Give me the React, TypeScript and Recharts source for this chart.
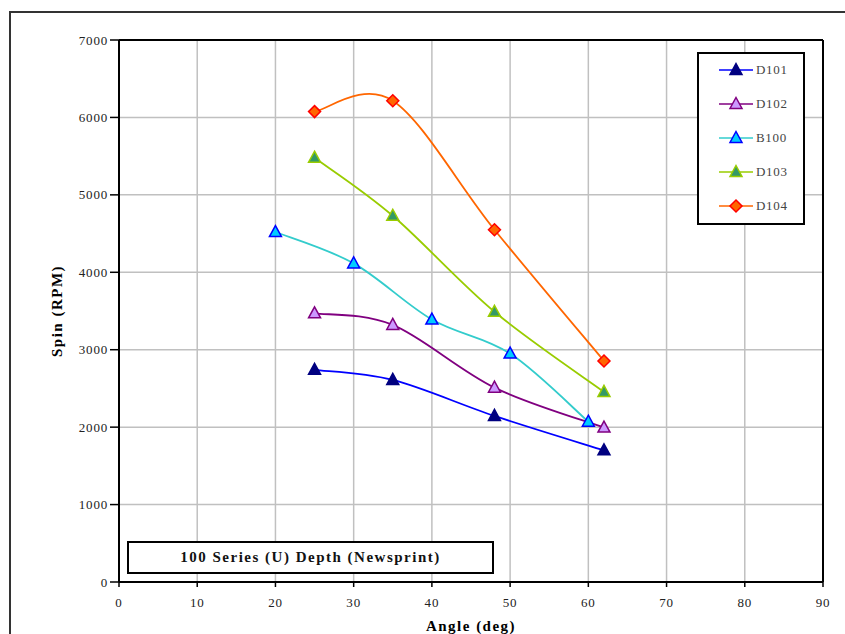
import React from 'react'
import { LineChart, Line, XAxis, YAxis, CartesianGrid, ReferenceLine } from 'recharts'

// values
const d101Angle = [25, 35, 48, 62]
const d101Spin = [2740, 2610, 2145, 1700]
const d102Angle = [25, 35, 48, 62]
const d102Spin = [3470, 3320, 2510, 1995]
const b100Angle = [20, 30, 40, 50, 60]
const b100Spin = [4520, 4115, 3390, 2950, 2070]
const d103Angle = [25, 35, 48, 62]
const d103Spin = [5480, 4730, 3490, 2455]
const d104Angle = [25, 35, 48, 62]
const d104Spin = [6075, 6215, 4550, 2855]

const xTicks = [0, 10, 20, 30, 40, 50, 60, 70, 80, 90]
const yTicks = [0, 1000, 2000, 3000, 4000, 5000, 6000, 7000]

const SERIF = '"Liberation Serif", "Times New Roman", serif'

const toPoints = (xs: number[], ys: number[]) => xs.map((x, i) => ({ x, y: ys[i] }))

interface SeriesDef {
  name: string
  data: { x: number; y: number }[]
  line: string
  fill: string
  stroke: string
  shape: 'triangle' | 'diamond'
}

const series: SeriesDef[] = [
  { name: 'D101', data: toPoints(d101Angle, d101Spin), line: '#0000ff', fill: '#000080', stroke: '#000080', shape: 'triangle' },
  { name: 'D102', data: toPoints(d102Angle, d102Spin), line: '#800080', fill: '#cc99ff', stroke: '#800080', shape: 'triangle' },
  { name: 'B100', data: toPoints(b100Angle, b100Spin), line: '#33cccc', fill: '#00ccff', stroke: '#0000ff', shape: 'triangle' },
  { name: 'D103', data: toPoints(d103Angle, d103Spin), line: '#99cc00', fill: '#339966', stroke: '#99cc00', shape: 'triangle' },
  { name: 'D104', data: toPoints(d104Angle, d104Spin), line: '#ff6600', fill: '#ff6600', stroke: '#ff0000', shape: 'diamond' },
]

// Excel-style smoothed line (Catmull-Rom bezier)
const excelCurve = (context: any) => {
  let pts: number[][] = []
  return {
    areaStart() {},
    areaEnd() {},
    lineStart() {
      pts = []
    },
    point(x: number, y: number) {
      pts.push([+x, +y])
    },
    lineEnd() {
      const n = pts.length
      if (!n) return
      context.moveTo(pts[0][0], pts[0][1])
      for (let i = 0; i < n - 1; i++) {
        const p0 = pts[Math.max(0, i - 1)]
        const p1 = pts[i]
        const p2 = pts[i + 1]
        const p3 = pts[Math.min(n - 1, i + 2)]
        context.bezierCurveTo(
          p1[0] + (p2[0] - p0[0]) / 6,
          p1[1] + (p2[1] - p0[1]) / 6,
          p2[0] - (p3[0] - p1[0]) / 6,
          p2[1] - (p3[1] - p1[1]) / 6,
          p2[0],
          p2[1]
        )
      }
    },
  }
}

const Marker = ({ cx, cy, s }: { cx: number; cy: number; s: SeriesDef }) => {
  if (s.shape === 'diamond') {
    return (
      <polygon
        points={`${cx},${cy - 6} ${cx + 6},${cy} ${cx},${cy + 6} ${cx - 6},${cy}`}
        fill={s.fill}
        stroke={s.stroke}
        strokeWidth={1.5}
      />
    )
  }
  return (
    <polygon
      points={`${cx},${cy - 6.5} ${cx + 6},${cy + 4.5} ${cx - 6},${cy + 4.5}`}
      fill={s.fill}
      stroke={s.stroke}
      strokeWidth={1.5}
    />
  )
}

const LegendBox = () => (
  <div
    style={{
      position: 'absolute',
      left: 697,
      top: 52,
      width: 104,
      height: 169,
      border: '2px solid #000',
      background: '#fff',
    }}
  >
    {series.map((s, i) => (
      <div
        key={s.name}
        style={{ position: 'absolute', left: 19, top: 6 + i * 34, height: 20, display: 'flex', alignItems: 'center' }}
      >
        <svg width={36} height={20}>
          <line x1={1} y1={10} x2={35} y2={10} stroke={s.line} strokeWidth={1.5} />
          <Marker cx={18} cy={10} s={s} />
        </svg>
        <span style={{ fontFamily: SERIF, fontSize: 13, letterSpacing: 0.7, color: '#444', marginLeft: 2 }}>
          {s.name}
        </span>
      </div>
    ))}
  </div>
)

export default function App() {
  return (
    <div
      style={{
        position: 'fixed',
        left: 0,
        top: 0,
        width: 845,
        height: 634,
        overflow: 'hidden',
        background: '#fff',
        fontFamily: SERIF,
      }}
    >
      <style>{'html, body { margin: 0; overflow: hidden; }'}</style>
      {/* outer chart frame, runs past the page edge */}
      <div style={{ position: 'absolute', left: 9, top: 11, width: 836, height: 2, background: '#333' }} />
      <div style={{ position: 'absolute', left: 9, top: 11, width: 2, height: 623, background: '#333' }} />
      <div style={{ position: 'absolute', left: 0, top: 0 }}>
        <LineChart width={845} height={634} margin={{ top: 40, right: 22, bottom: 0, left: 0 }}>
          <CartesianGrid stroke="#c0c0c0" strokeWidth={1.5} />
          <XAxis
            type="number"
            dataKey="x"
            domain={[0, 90]}
            ticks={xTicks}
            interval={0}
            height={52}
            axisLine={{ stroke: '#000', strokeWidth: 2 }}
            tickLine={{ stroke: '#000', strokeWidth: 1.5 }}
            tickSize={5}
            tickMargin={11}
            tick={{ fill: '#222', fontSize: 13, letterSpacing: 0.8, fontFamily: SERIF }}
            label={{
              value: 'Angle (deg)',
              position: 'insideBottom',
              offset: 3,
              fill: '#000',
              fontSize: 15,
              letterSpacing: 1.5,
              fontWeight: 'bold',
              fontFamily: SERIF,
            }}
          />
          <YAxis
            type="number"
            domain={[0, 7000]}
            ticks={yTicks}
            interval={0}
            width={119}
            axisLine={{ stroke: '#000', strokeWidth: 2 }}
            tickLine={{ stroke: '#000', strokeWidth: 1.5 }}
            tickSize={9}
            tickMargin={2}
            tick={{ fill: '#222', fontSize: 13, letterSpacing: 0.8, fontFamily: SERIF }}
            label={{
              value: 'Spin (RPM)',
              angle: -90,
              position: 'center',
              dx: -3,
              fill: '#000',
              fontSize: 15,
              letterSpacing: 1.5,
              fontWeight: 'bold',
              fontFamily: SERIF,
            }}
          />
          <ReferenceLine y={7000} stroke="#000" strokeWidth={2} />
          <ReferenceLine x={90} stroke="#000" strokeWidth={2} />
          {series.map((s) => (
            <Line
              key={s.name}
              data={s.data}
              dataKey="y"
              name={s.name}
              type={excelCurve as any}
              stroke={s.line}
              strokeWidth={1.8}
              isAnimationActive={false}
              dot={(p: any) => (
                <g key={`${s.name}-${p.index}`}>
                  <Marker cx={p.cx} cy={p.cy} s={s} />
                </g>
              )}
              activeDot={false}
            />
          ))}
        </LineChart>
      </div>
      <LegendBox />
      {/* title box */}
      <div
        style={{
          position: 'absolute',
          left: 127,
          top: 541,
          width: 363,
          height: 29,
          border: '2px solid #000',
          background: '#fff',
          display: 'flex',
          alignItems: 'center',
          justifyContent: 'center',
          fontFamily: SERIF,
          fontWeight: 'bold',
          fontSize: 15,
          letterSpacing: 1.5,
          color: '#111',
        }}
      >
        100 Series (U) Depth (Newsprint)
      </div>
    </div>
  )
}
